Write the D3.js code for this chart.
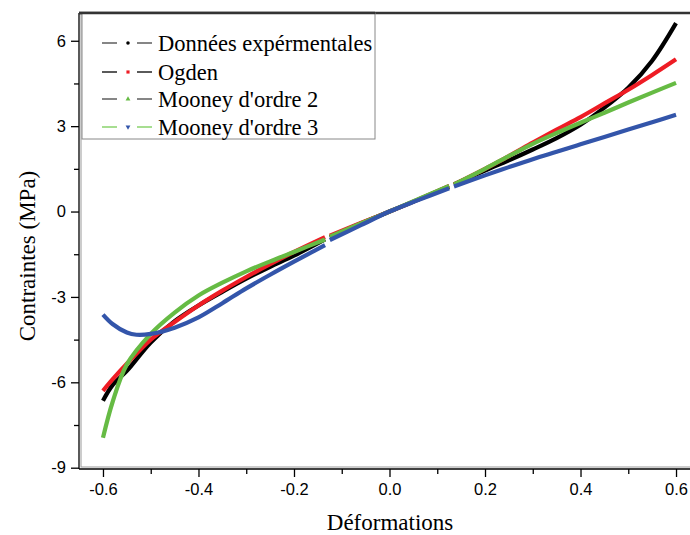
<!DOCTYPE html>
<html><head><meta charset="utf-8">
<script src="https://cdn.jsdelivr.net/npm/d3@7"></script>
<style>body{margin:0;background:#fff}svg{display:block}</style>
</head><body>
<svg id="c" width="690" height="535"></svg>
<script>
// ---- data ----
const seriesNames = ["Données expérmentales", "Ogden", "Mooney d'ordre 2", "Mooney d'ordre 3"];
const seriesColors = ["#000000", "#ee1c24", "#66bb44", "#3355aa"];
// three test segments (x values)
const xSeg1 = [-0.6, -0.58, -0.55, -0.5, -0.45, -0.4, -0.35, -0.3, -0.25, -0.2, -0.135];
const xSeg2 = [-0.125, -0.06, 0, 0.06, 0.125];
const xSeg3 = [0.135, 0.2, 0.25, 0.3, 0.35, 0.4, 0.45, 0.5, 0.55, 0.6];
// series values per segment
const expSeg1 = [-6.65, -6.1, -5.6, -4.6, -3.85, -3.3, -2.82, -2.36, -1.94, -1.55, -0.98];
const expSeg2 = [-0.9, -0.42, 0, 0.42, 0.88];
const expSeg3 = [0.95, 1.44, 1.8, 2.18, 2.58, 3.05, 3.65, 4.35, 5.3, 6.62];
const ogdenSeg1 = [-6.3, -5.9, -5.35, -4.5, -3.88, -3.3, -2.78, -2.3, -1.85, -1.42, -0.9];
const ogdenSeg2 = [-0.85, -0.4, 0, 0.42, 0.9];
const ogdenSeg3 = [0.95, 1.5, 1.95, 2.42, 2.88, 3.32, 3.8, 4.28, 4.8, 5.35];
const mooney2Seg1 = [-7.95, -6.7, -5.37, -4.3, -3.55, -2.95, -2.5, -2.1, -1.75, -1.42, -0.98];
const mooney2Seg2 = [-0.88, -0.42, 0, 0.43, 0.9];
const mooney2Seg3 = [0.95, 1.5, 1.95, 2.38, 2.76, 3.12, 3.47, 3.83, 4.18, 4.52];
const mooney3Seg1x = [-0.6, -0.58, -0.55, -0.53, -0.5, -0.45, -0.4, -0.35, -0.3, -0.25, -0.2, -0.135];
const mooney3Seg1 = [-3.62, -3.95, -4.25, -4.33, -4.3, -4.08, -3.72, -3.22, -2.7, -2.22, -1.76, -1.18];
const mooney3Seg2 = [-1.0, -0.48, 0, 0.4, 0.82];
const mooney3Seg3 = [0.88, 1.27, 1.56, 1.84, 2.1, 2.36, 2.62, 2.88, 3.14, 3.4];
const xTicks = [-0.6, -0.4, -0.2, 0.0, 0.2, 0.4, 0.6];
const yTicks = [-9, -6, -3, 0, 3, 6];

const segs = [
  [[xSeg1, expSeg1], [xSeg2, expSeg2], [xSeg3, expSeg3]],
  [[xSeg1, ogdenSeg1], [xSeg2, ogdenSeg2], [xSeg3, ogdenSeg3]],
  [[xSeg1, mooney2Seg1], [xSeg2, mooney2Seg2], [xSeg3, mooney2Seg3]],
  [[mooney3Seg1x, mooney3Seg1], [xSeg2, mooney3Seg2], [xSeg3, mooney3Seg3]]
];

// ---- layout ----
const svg = d3.select("#c");
const x = d3.scaleLinear().domain([-0.65, 0.65]).range([79.1, 699.9]);
const y = d3.scaleLinear().domain([-9, 7]).range([467.7, 12.3]);

// frame
svg.append("rect").attr("x", 81).attr("y", 13).attr("width", 640).attr("height", 454)
  .attr("fill", "none").attr("stroke", "#999").attr("stroke-width", 1);
svg.append("line").attr("x1", 79).attr("x2", 690).attr("y1", 13).attr("y2", 13)
  .attr("stroke", "#333").attr("stroke-width", 2.5);

// curves
const line = d3.line().x(d => x(d[0])).y(d => y(d[1])).curve(d3.curveCatmullRom.alpha(0.5));
const g = svg.append("g");
segs.forEach((ss, i) => {
  ss.forEach(([xs, ys]) => {
    g.append("path").datum(xs.map((v, k) => [v, ys[k]]))
      .attr("d", line).attr("fill", "none")
      .attr("stroke", seriesColors[i]).attr("stroke-width", 4.2)
      .attr("stroke-linecap", "butt");
  });
});

// axes
const hy = f => d => f(d).replace("\u2212", "-");
const xAxis = d3.axisBottom(x).tickValues(xTicks).tickFormat(hy(d3.format(".1f"))).tickSize(8).tickSizeOuter(0);
const xMinor = d3.axisBottom(x).tickValues([-0.5, -0.3, -0.1, 0.1, 0.3, 0.5]).tickFormat("").tickSize(5).tickSizeOuter(0);
const yAxis = d3.axisLeft(y).tickValues(yTicks).tickFormat(hy(d3.format("d"))).tickSize(8).tickSizeOuter(0);
const yMinor = d3.axisLeft(y).tickValues([-7.5, -4.5, -1.5, 1.5, 4.5]).tickFormat("").tickSize(5).tickSizeOuter(0);

const gx = svg.append("g").attr("transform", "translate(0,469)").call(xAxis);
svg.append("g").attr("transform", "translate(0,469)").call(xMinor).select(".domain").remove();
const gy = svg.append("g").attr("transform", "translate(79,0)").call(yAxis);
svg.append("g").attr("transform", "translate(79,0)").call(yMinor).select(".domain").remove();
gx.select(".domain").attr("d", "M79,0H690");
gy.select(".domain").attr("d", "M0,13V469");
svg.selectAll(".tick line").attr("stroke", "#000").attr("stroke-width", 1.3);
svg.selectAll(".domain").attr("stroke", "#000").attr("stroke-width", 1.3);
gx.selectAll("text").attr("font-family", "Liberation Sans, Arial, sans-serif").attr("font-size", 16.5)
  .attr("dy", "0.71em").attr("y", 14).attr("fill", "#000");
gy.selectAll("text").attr("font-family", "Liberation Sans, Arial, sans-serif").attr("font-size", 16.5)
  .attr("x", -13).attr("fill", "#000");

// axis titles
svg.append("text").attr("x", 390).attr("y", 530).attr("text-anchor", "middle")
  .attr("font-family", "Liberation Serif, Times New Roman, serif").attr("font-size", 23)
  .text("Déformations");
svg.append("text").attr("transform", "translate(35,256) rotate(-90)").attr("text-anchor", "middle")
  .attr("font-family", "Liberation Serif, Times New Roman, serif").attr("font-size", 23)
  .text("Contraintes (MPa)");

// legend
const lg = svg.append("g");
lg.append("rect").attr("x", 82).attr("y", 13).attr("width", 293).attr("height", 126)
  .attr("fill", "#fff").attr("stroke", "#888").attr("stroke-width", 1);
svg.append("line").attr("x1", 79).attr("x2", 375).attr("y1", 13).attr("y2", 13)
  .attr("stroke", "#333").attr("stroke-width", 2.5);
const legLineColors = ["#444", "#000", "#444", "#77cc55"];
const rowsY = [43, 72, 99, 127];
const sym = [d3.symbolCircle, d3.symbolSquare, d3.symbolTriangle, d3.symbolTriangle];
seriesNames.forEach((name, i) => {
  const ry = rowsY[i];
  lg.append("line").attr("x1", 102).attr("x2", 117).attr("y1", ry).attr("y2", ry)
    .attr("stroke", legLineColors[i]).attr("stroke-width", 1.3);
  lg.append("line").attr("x1", 137).attr("x2", 152).attr("y1", ry).attr("y2", ry)
    .attr("stroke", legLineColors[i]).attr("stroke-width", 1.3);
  lg.append("path").attr("d", d3.symbol().type(sym[i]).size(10)())
    .attr("transform", `translate(128,${ry})` + (i === 3 ? " rotate(180)" : ""))
    .attr("fill", seriesColors[i]);
  lg.append("text").attr("x", 158).attr("y", ry + 7.5)
    .attr("font-family", "Liberation Serif, Times New Roman, serif").attr("font-size", 22.5)
    .text(name);
});
</script>
</body></html>
